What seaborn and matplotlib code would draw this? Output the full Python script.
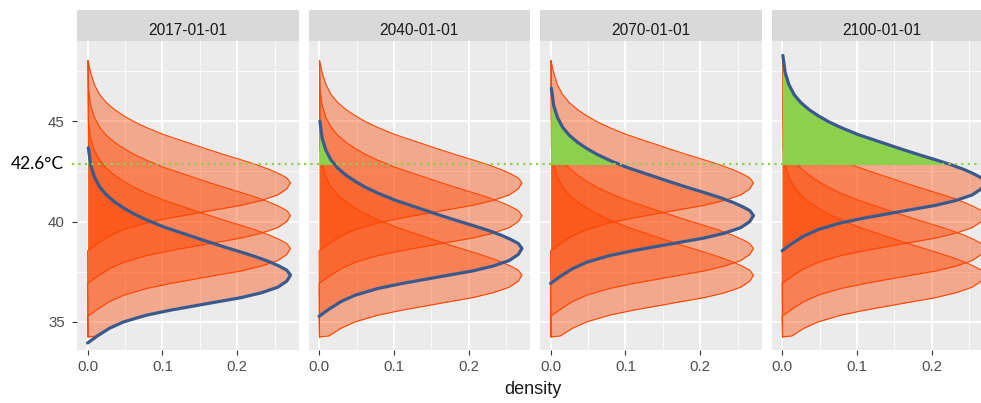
import numpy as np
import pandas as pd
import matplotlib
matplotlib.use("Agg")
import matplotlib.pyplot as plt
from matplotlib.lines import Line2D
from matplotlib.patches import Rectangle
import seaborn as sns

# facet titles (one panel per year)
years = ["2017-01-01", "2040-01-01", "2070-01-01", "2100-01-01"]

# temperature at the mode of each year's density (°C)
peak_temps = [37.33, 38.66, 40.30, 41.93]

# shape of the density: temperature relative to the mode, density value
offset_from_peak = [-3.38, -3.03, -2.65, -2.33, -2.00, -1.75, -1.55, -1.35, -1.12, -0.88,
                    -0.60, -0.30, 0.00, 0.25, 0.45, 0.65, 0.90, 1.15, 1.40, 1.70,
                    2.05, 2.40, 2.75, 3.05, 3.35, 3.65, 4.00, 4.40, 4.90, 5.50, 6.35]
profile_density = [0.000, 0.013, 0.029, 0.048, 0.078, 0.110, 0.140, 0.170, 0.205, 0.232,
                   0.254, 0.266, 0.271, 0.266, 0.256, 0.244, 0.226, 0.205, 0.183, 0.158,
                   0.130, 0.102, 0.079, 0.062, 0.048, 0.036, 0.025, 0.016, 0.009, 0.004, 0.001]

# the grey (orange) densities span the whole data range
orange_range = (34.25, 48.02)
tail_density = 0.0005

threshold_label = "42.6°C"
threshold_level = 42.87   # where the dotted line sits on the temperature axis

orange = "#FF4500"
green = "#8CD04B"
blue = "#3A5A8E"

sns.set_theme(style="darkgrid", rc={
    "axes.facecolor": "#EBEBEB",
    "grid.color": "white",
    "axes.edgecolor": "none",
    "xtick.color": "#333333",
    "ytick.color": "#333333",
    "xtick.labelcolor": "#4D4D4D",
    "ytick.labelcolor": "#4D4D4D",
})
plt.rcParams["font.family"] = ["Liberation Sans", "DejaVu Sans"]


def curve(peak):
    t = np.array(offset_from_peak) + peak
    d = np.array(profile_density)
    return t, d


def orange_curve(peak):
    t, d = curve(peak)
    keep = (t >= orange_range[0]) & (t <= orange_range[1])
    t, d = list(t[keep]), list(d[keep])
    if t[0] > orange_range[0]:
        t = [orange_range[0]] + t
        d = [tail_density] + d
    if t[-1] < orange_range[1]:
        t = t + [orange_range[1]]
        d = d + [tail_density]
    return np.array(t), np.array(d)


W, H = 981, 403
fig = plt.figure(figsize=(W / 100, H / 100), dpi=100)
fig.patch.set_facecolor("white")

panel_left0, panel_w, panel_step = 77, 221.5, 231.5
panel_top, panel_bottom = 41, 350
strip_top = 10

axes = []
for i, year in enumerate(years):
    left = (panel_left0 + i * panel_step) / W
    ax = fig.add_axes([left, (H - panel_bottom) / H, panel_w / W,
                       (panel_bottom - panel_top) / H])
    axes.append(ax)

    # all four year densities, translucent orange
    for p in peak_temps:
        t, d = orange_curve(p)
        ax.fill_betweenx(t, 0, d, facecolor=orange, alpha=0.4, linewidth=0, zorder=2)
        ax.plot(d, t, color=orange, lw=0.8, zorder=2.1)

    # highlighted year: green share above the threshold + blue outline
    t, d = curve(peak_temps[i])
    poly = ax.fill_betweenx(t, 0, d, facecolor=green, linewidth=0, zorder=3)
    clip = Rectangle((-1, threshold_level), 2, 20, transform=ax.transData)
    poly.set_clip_path(clip)

    df = pd.DataFrame({"temp": t, "density": d})
    sns.lineplot(data=df, x="density", y="temp", orient="y", color=blue,
                 lw=2.3, ax=ax, zorder=4, estimator=None)

    ax.set_xlim(-0.0142, 0.2817)
    ax.set_ylim(33.6, 49.0)
    ax.set_xticks([0, 0.1, 0.2])
    ax.set_xticklabels(["0.0", "0.1", "0.2"])
    ax.set_xticks([0.05, 0.15, 0.25], minor=True)
    ax.set_yticks([35, 40, 45])
    ax.set_yticks([37.5, 42.5, 47.5], minor=True)
    ax.grid(which="major", color="white", lw=1.3)
    ax.grid(which="minor", color="white", lw=0.6)
    ax.set_xlabel("")
    ax.set_ylabel("")
    ax.tick_params(axis="x", which="major", length=3.5, width=0.8, pad=4, labelsize=10.8,
                   bottom=True)
    ax.tick_params(axis="y", which="major", length=3.3, width=0.8, pad=5.5, labelsize=10.8,
                   left=(i == 0), labelleft=(i == 0))
    ax.tick_params(which="minor", length=0)
    for s in ax.spines.values():
        s.set_visible(False)

    # facet strip
    sax = fig.add_axes([left, (H - panel_top) / H, panel_w / W, (panel_top - strip_top) / H])
    sax.set_facecolor("#D9D9D9")
    sax.set_xticks([])
    sax.set_yticks([])
    sax.grid(False)
    for s in sax.spines.values():
        s.set_visible(False)
    sax.text(0.5, 0.19, year, ha="center", va="baseline", fontsize=11.2,
             color="#1A1A1A", transform=sax.transAxes)

# dotted threshold line across all panels
fig.canvas.draw()
y_disp = axes[0].transData.transform((0, threshold_level))[1]
y_fig = fig.transFigure.inverted().transform((0, y_disp))[1]
fig.add_artist(Line2D([72 / W, 1.0], [y_fig, y_fig], transform=fig.transFigure,
                      color=green, lw=1.6, linestyle=(0, (1, 1.9)), zorder=10))
fig.text(11 / W, y_fig, threshold_label, ha="left", va="center", fontsize=12.5,
         color="black", family=["Lato", "DejaVu Sans"])

fig.text(533 / W, (H - 394) / H, "density", ha="center", va="baseline",
         fontsize=13, color="#1A1A1A")

fig.savefig("out.png", dpi=100, facecolor="white")
